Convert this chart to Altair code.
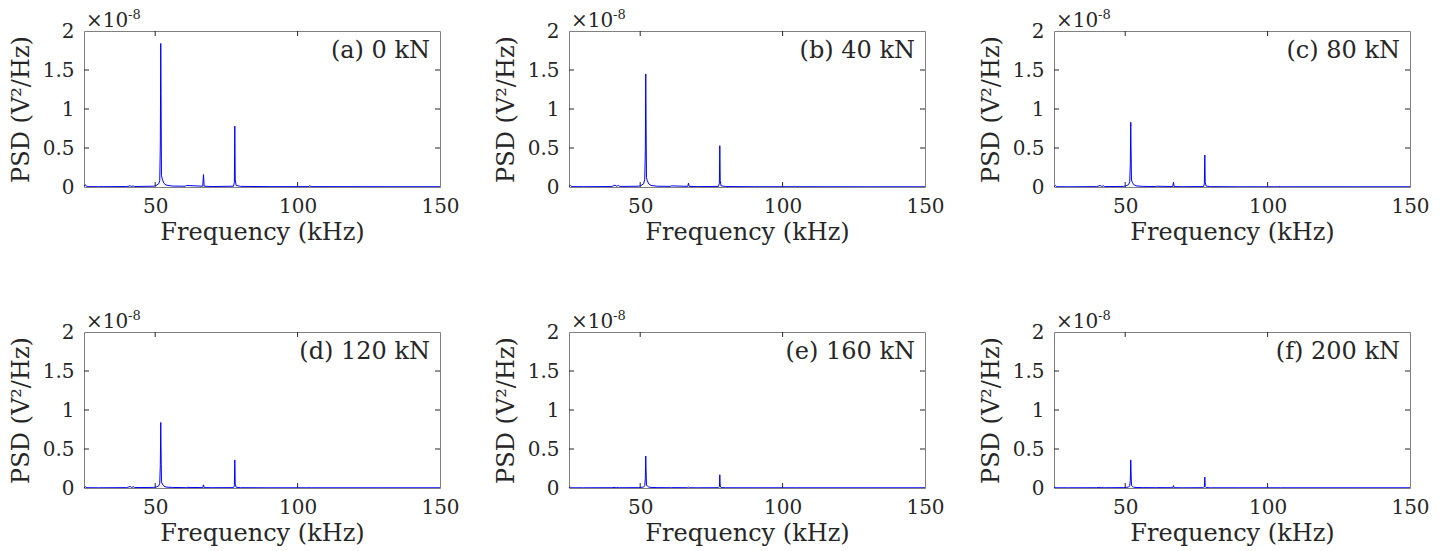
import altair as alt
import pandas as pd

FONT = "DejaVu Serif"
W, H = 356, 156

labels = ["(a) 0 kN", "(b) 40 kN", "(c) 80 kN", "(d) 120 kN", "(e) 160 kN", "(f) 200 kN"]

freq = [25.0, 25.5, 26.0, 30.0, 40.0, 41.2, 41.6, 42.4, 42.8, 45.0,
        49.5, 50.3, 51.2, 51.6, 51.8, 51.95, 52.05, 52.2, 52.5, 53.0,
        53.8, 56.0, 60.5, 61.0, 66.7, 66.95, 67.2, 70.0, 77.5, 77.8,
        77.95, 78.1, 78.4, 80.0, 90.0, 104.0, 104.3, 104.6, 130.0, 150.0]

psd_a = [0.005, 0.03, 0.005, 0.004, 0.006, 0.015, 0.008, 0.012, 0.006, 0.008,
         0.01, 0.02, 0.04, 0.08, 0.55, 1.84, 1.2, 0.15, 0.1, 0.05,
         0.025, 0.012, 0.01, 0.02, 0.01, 0.16, 0.01, 0.006, 0.01, 0.06,
         0.78, 0.1, 0.02, 0.008, 0.005, 0.005, 0.02, 0.005, 0.004, 0.004]
psd_b = [0.005, 0.02, 0.005, 0.004, 0.006, 0.025, 0.01, 0.02, 0.008, 0.008,
         0.01, 0.02, 0.04, 0.1, 0.45, 1.45, 0.9, 0.12, 0.08, 0.04,
         0.02, 0.01, 0.008, 0.015, 0.008, 0.05, 0.008, 0.005, 0.008, 0.05,
         0.53, 0.08, 0.015, 0.006, 0.004, 0.004, 0.012, 0.004, 0.003, 0.003]
psd_c = [0.004, 0.02, 0.004, 0.003, 0.005, 0.02, 0.008, 0.015, 0.006, 0.006,
         0.008, 0.015, 0.03, 0.07, 0.3, 0.83, 0.5, 0.09, 0.06, 0.03,
         0.015, 0.008, 0.006, 0.01, 0.006, 0.06, 0.006, 0.004, 0.006, 0.04,
         0.41, 0.06, 0.012, 0.005, 0.003, 0.003, 0.01, 0.003, 0.003, 0.003]
psd_d = [0.004, 0.015, 0.004, 0.003, 0.005, 0.02, 0.008, 0.015, 0.006, 0.006,
         0.008, 0.012, 0.025, 0.06, 0.3, 0.84, 0.5, 0.08, 0.05, 0.025,
         0.012, 0.007, 0.005, 0.008, 0.005, 0.04, 0.005, 0.004, 0.005, 0.03,
         0.36, 0.05, 0.01, 0.004, 0.003, 0.003, 0.008, 0.003, 0.003, 0.003]
psd_e = [0.003, 0.01, 0.003, 0.003, 0.004, 0.008, 0.005, 0.008, 0.004, 0.004,
         0.005, 0.008, 0.012, 0.03, 0.12, 0.41, 0.25, 0.04, 0.025, 0.012,
         0.008, 0.005, 0.004, 0.005, 0.004, 0.012, 0.004, 0.003, 0.004, 0.015,
         0.17, 0.025, 0.006, 0.003, 0.003, 0.003, 0.005, 0.003, 0.003, 0.003]
psd_f = [0.003, 0.008, 0.003, 0.003, 0.004, 0.008, 0.005, 0.008, 0.004, 0.004,
         0.005, 0.008, 0.012, 0.03, 0.1, 0.36, 0.22, 0.035, 0.02, 0.01,
         0.007, 0.005, 0.004, 0.005, 0.004, 0.03, 0.004, 0.003, 0.004, 0.012,
         0.14, 0.02, 0.005, 0.003, 0.003, 0.003, 0.005, 0.003, 0.003, 0.003]
series = [psd_a, psd_b, psd_c, psd_d, psd_e, psd_f]

x_ticks = [50, 100, 150]
y_ticks = [0, 0.5, 1, 1.5, 2]
x_inner_ticks = [50, 100]
y_inner_ticks = [0.5, 1, 1.5]

DARK = "#262626"
xscale = alt.Scale(domain=[25, 150], nice=False, zero=False)
yscale = alt.Scale(domain=[0, 2], nice=False)
xaxis = alt.Axis(values=x_ticks, title="Frequency (kHz)", ticks=False, domain=False,
                 grid=False, labelPadding=9, titlePadding=4, labelFlush=False,
                 labelOverlap=False)
yaxis = alt.Axis(values=y_ticks, title="PSD (V²/Hz)", ticks=False, domain=False,
                 grid=False, labelPadding=10, titlePadding=9, format="~g",
                 labelFlush=False, labelOverlap=False)


def panel(label, vals):
    df = pd.DataFrame({"f": freq, "p": vals})
    line = alt.Chart(df).mark_line(color="#0000ff", strokeWidth=1, clip=True).encode(
        x=alt.X("f:Q", scale=xscale, axis=xaxis),
        y=alt.Y("p:Q", scale=yscale, axis=yaxis),
    )
    xt = pd.DataFrame({"f": x_inner_ticks})
    yt = pd.DataFrame({"p": y_inner_ticks})
    tb = alt.Chart(xt).mark_rule(color=DARK, strokeWidth=1).encode(
        x=alt.X("f:Q", scale=xscale, axis=xaxis), y=alt.value(H), y2=alt.value(H - 5))
    tt = alt.Chart(xt).mark_rule(color=DARK, strokeWidth=1).encode(
        x=alt.X("f:Q", scale=xscale, axis=xaxis), y=alt.value(0), y2=alt.value(5))
    tl = alt.Chart(yt).mark_rule(color=DARK, strokeWidth=1).encode(
        y=alt.Y("p:Q", scale=yscale, axis=yaxis), x=alt.value(0), x2=alt.value(5))
    tr = alt.Chart(yt).mark_rule(color=DARK, strokeWidth=1).encode(
        y=alt.Y("p:Q", scale=yscale, axis=yaxis), x=alt.value(W - 5), x2=alt.value(W))
    lab = alt.Chart(pd.DataFrame({"t": [label]})).mark_text(
        font=FONT, fontSize=24, align="right", baseline="alphabetic", color=DARK
    ).encode(text="t:N", x=alt.value(W - 10), y=alt.value(27))
    mul = alt.Chart(pd.DataFrame({"t": ["×10"]})).mark_text(
        font=FONT, fontSize=20, align="left", baseline="alphabetic", color=DARK
    ).encode(text="t:N", x=alt.value(2), y=alt.value(-4))
    exp = alt.Chart(pd.DataFrame({"t": ["-8"]})).mark_text(
        font=FONT, fontSize=13, align="left", baseline="alphabetic", color=DARK
    ).encode(text="t:N", x=alt.value(44), y=alt.value(-12))
    return alt.layer(line, tb, tt, tl, tr, lab, mul, exp).properties(width=W, height=H)


panels = [panel(l, s) for l, s in zip(labels, series)]
chart = alt.concat(*panels, columns=3, spacing={"row": 145, "column": 129},
                   bounds="flush").configure_view(
    stroke="#808080", strokeWidth=1
).configure_axis(
    labelFont=FONT, titleFont=FONT, labelFontSize=20, titleFontSize=24,
    labelColor=DARK, titleColor=DARK, titleFontWeight="normal"
).properties(padding={"left": 0, "top": 0, "right": 0, "bottom": 0})

chart.save("out.html", embed_options={"renderer": "svg", "actions": False})
